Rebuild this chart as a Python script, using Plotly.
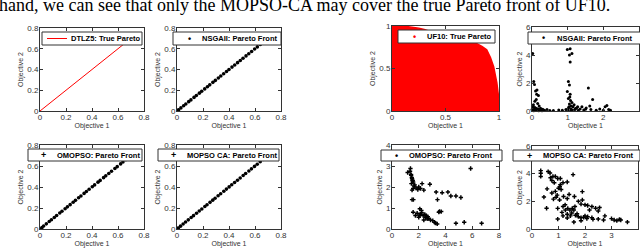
import plotly.graph_objects as go

# ---------------- data ----------------
caption = "hand, we can see that only the MOPSO-CA may cover the true Pareto front of UF10."

dtlz5_true_x = [0.0, 0.707]
dtlz5_true_y = [0.0, 0.707]

dtlz5_nsga_x = [0.0, 0.012, 0.03, 0.051, 0.068, 0.09, 0.107, 0.131, 0.149, 0.172,
                0.19, 0.213, 0.234, 0.252, 0.276, 0.295, 0.318, 0.337, 0.359, 0.381,
                0.4, 0.423, 0.444, 0.466, 0.487, 0.508, 0.531, 0.552, 0.574, 0.597,
                0.618, 0.641, 0.664, 0.687, 0.705]
dtlz5_nsga_y = [0.0, 0.012, 0.03, 0.051, 0.068, 0.09, 0.107, 0.131, 0.149, 0.172,
                0.19, 0.213, 0.234, 0.252, 0.276, 0.295, 0.318, 0.337, 0.359, 0.381,
                0.4, 0.423, 0.444, 0.466, 0.487, 0.508, 0.531, 0.552, 0.574, 0.597,
                0.618, 0.641, 0.664, 0.687, 0.705]

dtlz5_omopso_x = [0.0, 0.015, 0.028, 0.049, 0.071, 0.088, 0.11, 0.128, 0.152, 0.169,
                  0.193, 0.211, 0.232, 0.255, 0.273, 0.297, 0.315, 0.339, 0.357, 0.378,
                  0.402, 0.42, 0.446, 0.463, 0.489, 0.506, 0.529, 0.55, 0.576, 0.594,
                  0.62, 0.638, 0.661, 0.684, 0.706]
dtlz5_omopso_y = [0.0, 0.015, 0.028, 0.049, 0.071, 0.088, 0.11, 0.128, 0.152, 0.169,
                  0.193, 0.211, 0.232, 0.255, 0.273, 0.297, 0.315, 0.339, 0.357, 0.378,
                  0.402, 0.42, 0.446, 0.463, 0.489, 0.506, 0.529, 0.55, 0.576, 0.594,
                  0.62, 0.638, 0.661, 0.684, 0.706]

dtlz5_mopsoca_x = [0.0, 0.01, 0.027, 0.047, 0.066, 0.087, 0.109, 0.127, 0.15, 0.171,
                   0.191, 0.214, 0.231, 0.254, 0.275, 0.293, 0.316, 0.336, 0.36, 0.38,
                   0.401, 0.421, 0.443, 0.465, 0.486, 0.509, 0.528, 0.553, 0.573, 0.596,
                   0.617, 0.64, 0.662, 0.686, 0.707]
dtlz5_mopsoca_y = [0.0, 0.01, 0.027, 0.047, 0.066, 0.087, 0.109, 0.127, 0.15, 0.171,
                   0.191, 0.214, 0.231, 0.254, 0.275, 0.293, 0.316, 0.336, 0.36, 0.38,
                   0.401, 0.421, 0.443, 0.465, 0.486, 0.509, 0.528, 0.553, 0.573, 0.596,
                   0.617, 0.64, 0.662, 0.686, 0.707]

uf10_true_x = [0.0, 0.0, 0.10, 0.17, 0.25, 0.30, 0.35, 0.45, 0.55, 0.65,
               0.72, 0.78, 0.84, 0.885, 0.92, 0.95, 0.98, 1.0, 1.0]
uf10_true_y = [0.0, 1.0, 1.0, 0.99, 0.975, 0.96, 0.94, 0.92, 0.90, 0.86,
               0.83, 0.80, 0.76, 0.72, 0.63, 0.52, 0.33, 0.13, 0.0]

uf10_nsga_x = [0.02, 0.05, 0.07, 0.10, 0.13, 0.18, 0.12, 0.16, 0.20, 0.04,
               0.08, 0.15, 0.22, 0.25, 0.10, 0.05, 0.30, 0.35, 0.42, 0.50,
               0.60, 0.75, 0.85, 0.95, 0.99, 1.07, 1.05, 1.12, 1.07, 1.02,
               1.05, 0.99, 1.07, 1.02, 1.08, 1.05, 1.10, 1.03, 1.00, 1.15,
               1.20, 1.25, 1.30, 1.35, 1.40, 1.45, 1.58, 1.70, 1.62, 1.52,
               1.65, 1.80, 1.90, 2.05, 2.10, 2.15, 2.20, 1.12, 1.06, 0.00,
               0.03, 0.28, 0.14, 0.08, 0.19, 1.18, 1.28, 1.50, 2.00, 1.10,
               0.03, 0.06, 0.11, 0.17, 0.24, 1.01, 1.04, 1.09, 1.13, 1.22]
uf10_nsga_y = [4.10, 2.10, 1.90, 1.42, 1.20, 1.10, 0.83, 0.54, 0.35, 0.45,
               0.25, 0.15, 0.10, 0.08, 0.05, 0.02, 0.12, 0.06, 0.10, 0.04,
               0.03, 0.08, 0.05, 0.10, 4.40, 4.45, 4.00, 4.10, 3.50, 2.10,
               1.85, 1.40, 1.20, 0.90, 0.75, 0.50, 0.35, 0.25, 0.15, 0.30,
               0.10, 0.22, 0.05, 0.15, 0.30, 0.08, 1.65, 0.82, 0.35, 0.22,
               0.10, 0.05, 0.15, 0.30, 0.40, 0.10, 0.05, 0.60, 1.00, 0.10,
               0.30, 0.02, 1.50, 0.70, 0.02, 0.45, 0.30, 0.12, 0.05, 0.05,
               0.05, 0.12, 0.20, 0.15, 0.20, 0.05, 0.30, 0.15, 0.08, 0.18]

uf10_omopso_x = [1.38, 1.17, 1.43, 1.50, 1.58, 1.45, 1.58, 1.50, 2.00, 2.13,
                 1.93, 2.25, 2.38, 2.83, 3.30, 3.75, 4.18, 3.40, 4.40, 4.78,
                 5.15, 5.88, 1.50, 1.60, 1.58, 1.88, 2.08, 2.20, 2.13, 2.33,
                 2.50, 2.63, 2.88, 3.18, 3.38, 3.50, 3.68, 2.00, 2.38, 2.68,
                 1.75, 4.78, 5.40, 6.70, 1.42, 1.55, 1.65, 2.45, 2.75, 3.05,
                 1.35, 1.48, 1.80, 2.22, 2.58, 3.25, 1.70, 2.05, 3.55, 1.52]
uf10_omopso_y = [2.88, 2.69, 2.56, 2.40, 2.24, 2.16, 1.93, 1.85, 2.00, 1.93,
                 1.88, 2.16, 1.85, 2.13, 1.76, 1.73, 1.76, 1.40, 1.57, 1.57,
                 1.50, 2.88, 1.40, 1.40, 0.80, 0.75, 0.96, 0.88, 0.69, 0.64,
                 0.56, 0.48, 0.43, 0.32, 0.24, 0.80, 0.83, 0.56, 0.43, 0.59,
                 0.64, 0.27, 0.32, 0.27, 2.60, 2.30, 2.05, 0.70, 0.50, 0.40,
                 2.75, 2.45, 1.95, 0.78, 0.62, 0.28, 2.10, 0.66, 0.84, 2.33]

uf10_mopsoca_x = [0.33, 0.33, 0.33, 0.61, 0.68, 0.79, 0.88, 0.97, 0.75, 0.84,
                  1.07, 1.55, 0.57, 0.75, 0.88, 1.00, 1.10, 1.07, 1.17, 1.33,
                  0.45, 0.81, 0.91, 1.04, 1.19, 1.33, 1.40, 0.97, 1.17, 1.26,
                  1.35, 1.43, 1.52, 1.58, 1.62, 1.75, 1.85, 1.90, 2.00, 1.90,
                  2.10, 2.17, 2.26, 2.40, 1.17, 1.33, 1.45, 1.64, 1.75, 1.85,
                  2.00, 2.07, 2.10, 2.26, 1.33, 1.13, 2.50, 2.55, 2.50, 2.70,
                  2.75, 3.00, 3.10, 3.20, 3.35, 3.60, 3.30, 0.97, 1.58, 1.85,
                  0.55, 0.95, 1.25, 1.50, 1.70, 1.95, 2.30, 0.70, 1.05, 1.60]
uf10_mopsoca_y = [4.22, 4.03, 3.80, 4.15, 4.05, 3.80, 3.80, 3.65, 3.50, 3.35,
                  3.65, 3.93, 2.90, 2.60, 2.72, 2.95, 2.85, 3.20, 3.35, 3.40,
                  2.31, 2.16, 2.30, 2.10, 2.35, 2.20, 2.50, 1.49, 1.62, 1.37,
                  1.49, 1.37, 1.49, 1.37, 1.62, 2.00, 1.80, 2.10, 1.75, 2.70,
                  1.70, 1.37, 1.62, 1.50, 0.95, 1.07, 0.95, 0.99, 0.89, 0.82,
                  0.95, 0.75, 0.89, 0.82, 0.80, 1.20, 1.30, 1.55, 0.72, 0.65,
                  0.95, 0.75, 0.65, 0.60, 0.65, 0.50, 0.70, 0.72, 0.50, 0.60,
                  1.50, 2.45, 1.75, 1.15, 1.10, 0.85, 0.70, 3.70, 3.05, 2.35]

legend_names = ["DTLZ5: True Pareto", "NSGAII: Pareto Front", "OMOPSO: Pareto Front",
                "MOPSO CA: Pareto Front", "UF10: True Pareto", "NSGAII: Pareto Front",
                "OMOPSO: Pareto Front", "MOPSO CA: Pareto Front"]
x_title = "Objective 1"
y_title = "Objective 2"

# ---------------- layout ----------------
W, H = 640, 250
# (left, right, top, bottom) px, x range, y range, x ticks, y ticks
panels = [
    ((40, 144, 28, 111), [0, 0.8], [0, 0.8], [0, 0.2, 0.4, 0.6, 0.8], [0, 0.2, 0.4, 0.6, 0.8]),
    ((177, 281, 28, 111), [0, 0.8], [0, 0.8], [0, 0.2, 0.4, 0.6, 0.8], [0, 0.2, 0.4, 0.6, 0.8]),
    ((40, 144, 145, 229), [0, 0.8], [0, 0.8], [0, 0.2, 0.4, 0.6, 0.8], [0, 0.2, 0.4, 0.6, 0.8]),
    ((177, 281, 145, 229), [0, 0.8], [0, 0.8], [0, 0.2, 0.4, 0.6, 0.8], [0, 0.2, 0.4, 0.6, 0.8]),
    ((392, 499, 26, 111), [0, 1], [0, 1], [0, 0.5, 1], [0, 0.5, 1]),
    ((532, 639, 27, 111), [0, 3], [0, 6], [0, 1, 2, 3], [0, 2, 4, 6]),
    ((392, 499, 145, 229), [0, 8], [0, 4], [0, 2, 4, 6, 8], [0, 1, 2, 3, 4]),
    ((532, 638, 146, 229), [0, 4], [0, 6], [0, 1, 2, 3, 4], [0, 2, 4, 6]),
]
# legend boxes: (left, right, top, bottom, symbol kind, symbol x, text x)
legend_boxes = [
    (42, 142, 32, 45, "line", 47, 70),
    (173, 281, 32, 45, "dot", 189, 201),
    (28, 142, 149, 161, "plus", 43, 56),
    (158, 279, 149, 161, "plus", 173, 186),
    (398, 495, 30, 43, "reddot", 414, 426),
    (528, 641, 32, 44, "dot", 543, 556),
    (381, 502, 150, 161, "dot", 396, 408),
    (513, 640, 150, 161, "plus", 529, 542),
]

AX = "#333333"
tick_font = dict(family="Liberation Sans, Arial", size=8, color="#333333")
title_font = dict(family="Liberation Sans, Arial", size=7, color="#333333")
legend_font = dict(family="Liberation Sans, Arial", size=7.5, color="black", weight="bold")

fig = go.Figure()


def ax_ids(i):
    return ("x" if i == 0 else f"x{i+1}", "y" if i == 0 else f"y{i+1}")


xa, ya = ax_ids(0)
fig.add_trace(go.Scatter(x=dtlz5_true_x, y=dtlz5_true_y, mode="lines", xaxis=xa, yaxis=ya,
                         line=dict(color="red", width=1), name=legend_names[0]))

for i, (xs, ys) in enumerate([(dtlz5_nsga_x, dtlz5_nsga_y),
                              (dtlz5_omopso_x, dtlz5_omopso_y),
                              (dtlz5_mopsoca_x, dtlz5_mopsoca_y)], start=1):
    xa, ya = ax_ids(i)
    fig.add_trace(go.Scatter(x=xs, y=ys, mode="markers", xaxis=xa, yaxis=ya,
                             marker=dict(color="black", size=3.6, symbol="circle", line=dict(width=0)),
                             name=legend_names[i]))

xa, ya = ax_ids(4)
fig.add_trace(go.Scatter(x=uf10_true_x, y=uf10_true_y, mode="lines", fill="toself",
                         fillcolor="red", line=dict(color="red", width=1.5),
                         xaxis=xa, yaxis=ya, name=legend_names[4]))

for i, (xs, ys, sym, sz) in enumerate([(uf10_nsga_x, uf10_nsga_y, "circle", 3),
                                       (uf10_omopso_x, uf10_omopso_y, "cross", 3.6),
                                       (uf10_mopsoca_x, uf10_mopsoca_y, "cross", 3.6)], start=5):
    xa, ya = ax_ids(i)
    fig.add_trace(go.Scatter(x=xs, y=ys, mode="markers", xaxis=xa, yaxis=ya,
                             marker=dict(color="black", size=sz, symbol=sym, line=dict(width=0)),
                             name=legend_names[i], cliponaxis=False))

layout = dict(width=W, height=H, margin=dict(l=0, r=0, t=0, b=0, autoexpand=False),
              paper_bgcolor="white", plot_bgcolor="white", showlegend=False)

for i, ((l, r, t, b), xr, yr, xt, yt) in enumerate(panels):
    xkey = "xaxis" if i == 0 else f"xaxis{i+1}"
    ykey = "yaxis" if i == 0 else f"yaxis{i+1}"
    xa, ya = ax_ids(i)
    common = dict(showline=True, linecolor=AX, linewidth=1, mirror="ticks", ticks="inside",
                  ticklen=3, tickcolor=AX, tickwidth=1, showgrid=False, zeroline=False,
                  tickfont=tick_font, fixedrange=True, automargin=False)
    layout[xkey] = dict(common, domain=[l / W, r / W], range=xr, tickvals=xt, anchor=ya,
                        ticklabelstandoff=-2,
                        title=dict(text=x_title, font=title_font, standoff=0))
    layout[ykey] = dict(common, domain=[1 - b / H, 1 - t / H], range=yr, tickvals=yt, anchor=xa,
                        ticklabelstandoff=-1,
                        title=dict(text=y_title, font=title_font, standoff=2))

shapes = []
annotations = [dict(text=caption, xref="paper", yref="paper", x=-3 / W, y=1 - 5 / H,
                    xanchor="left", yanchor="middle", showarrow=False,
                    font=dict(family="Liberation Serif, Times New Roman", size=18, color="black"))]

for i, (l, r, t, b, kind, sx, tx) in enumerate(legend_boxes):
    yc = (t + b) / 2
    shapes.append(dict(type="rect", xref="paper", yref="paper", layer="above",
                       x0=l / W, x1=r / W, y0=1 - b / H, y1=1 - t / H,
                       fillcolor="white", line=dict(color=AX, width=1)))
    if kind == "line":
        shapes.append(dict(type="line", xref="paper", yref="paper", layer="above",
                           x0=sx / W, x1=(sx + 20) / W, y0=1 - yc / H, y1=1 - yc / H,
                           line=dict(color="red", width=1)))
    else:
        sym_text = "+" if kind == "plus" else "•"
        sym_col = "red" if kind == "reddot" else "black"
        annotations.append(dict(text=sym_text, xref="paper", yref="paper", x=sx / W, y=1 - yc / H,
                                xanchor="center", yanchor="middle", showarrow=False,
                                font=dict(family="Liberation Sans, Arial", size=9,
                                          color=sym_col, weight="bold")))
    annotations.append(dict(text=legend_names[i], xref="paper", yref="paper", x=tx / W, y=1 - yc / H,
                            xanchor="left", yanchor="middle", showarrow=False, borderpad=0,
                            font=legend_font))

layout["shapes"] = shapes
layout["annotations"] = annotations

fig.update_layout(**layout)
fig.write_html("out.html", config={"displayModeBar": False},
               post_script="document.body.style.margin='0';document.body.style.overflow='hidden';")
